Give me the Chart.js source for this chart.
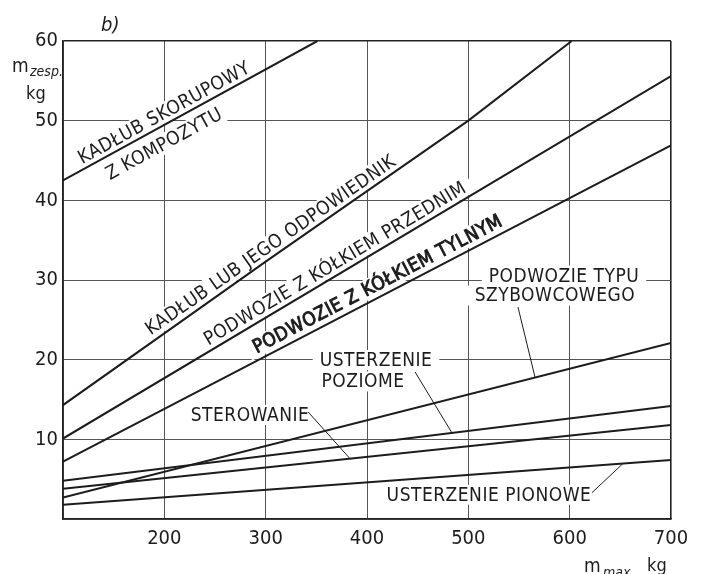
<!DOCTYPE html>
<html><head><meta charset="utf-8">
<script src="https://cdn.jsdelivr.net/npm/chart.js@4.4.1/dist/chart.umd.min.js"></script>
<style>html,body{margin:0;padding:0;background:#fff;}canvas{display:block}</style>
</head><body>
<canvas id="c" width="702" height="574"></canvas>
<script>
// ---- data ----
const xTickValues = [100, 200, 300, 400, 500, 600, 700];
const yTickValues = [0, 10, 20, 30, 40, 50, 60];
const shellCompositeX = [100, 351];
const shellCompositeY = [42.5, 60];
const fuselageX = [100, 300, 500, 602];
const fuselageY = [14.3, 32.3, 50.0, 60];
const noseGearX = [100, 700];
const noseGearY = [10.1, 55.6];
const tailGearX = [100, 700];
const tailGearY = [7.2, 46.9];
const gliderGearX = [100, 700];
const gliderGearY = [2.7, 22.1];
const hTailX = [100, 700];
const hTailY = [4.8, 14.2];
const controlsX = [100, 700];
const controlsY = [3.8, 11.8];
const vTailX = [100, 700];
const vTailY = [1.8, 7.4];

const FONT = "'DejaVu Sans Condensed', 'Liberation Sans Narrow', 'DejaVu Sans', sans-serif";
const INK = '#1c1c1c';

function pts(xs, ys){ return xs.map((x,i)=>({x:x, y:ys[i]})); }
function ds(xs, ys){
  return {data: pts(xs, ys), borderColor: INK, borderWidth: 2, pointRadius: 0, fill: false, tension: 0};
}

// annotation layout (data coordinates)
const lineLabels = [
  {text:'KADŁUB SKORUPOWY', x:199.7, y:51.0, ds:0},
  {text:'Z KOMPOZYTU', x:199.7, y:47.1, ds:0},
  {text:'KADŁUB LUB JEGO ODPOWIEDNIK', x:304.8, y:34.4, ds:1},
  {text:'PODWOZIE Z KÓŁKIEM PRZEDNIM', x:368.4, y:32.1, ds:2},
  {text:'PODWOZIE Z KÓŁKIEM TYLNYM', x:410.4, y:29.5, ds:3, bold:true}
];
const flatLabels = [
  {text:'PODWOZIE TYPU', x:594.4, y:30.55},
  {text:'SZYBOWCOWEGO', x:585.5, y:28.05},
  {text:'USTERZENIE', x:408.9, y:19.96},
  {text:'POZIOME', x:396.1, y:17.27},
  {text:'STEROWANIE', x:284.5, y:13.07},
  {text:'USTERZENIE PIONOWE', x:520.4, y:3.05}
];
const leaders = [
  [[549, 26.6], [565.8, 17.8]],
  [[447.4, 18.46], [483.9, 10.8]],
  [[341.8, 13.45], [383.2, 7.58]],
  [[622, 3.3], [652.6, 6.96]]
];

function angleAt(chart, idx, xv){
  const xs = chart.scales.x, ys = chart.scales.y;
  const d = chart.data.datasets[idx].data;
  let i = 0; while (i < d.length - 2 && d[i+1].x < xv) i++;
  const x0 = xs.getPixelForValue(d[i].x), y0 = ys.getPixelForValue(d[i].y);
  const x1 = xs.getPixelForValue(d[i+1].x), y1 = ys.getPixelForValue(d[i+1].y);
  return Math.atan2(y1 - y0, x1 - x0);
}

function labelBoxes(chart){
  const ctx = chart.ctx, xs = chart.scales.x, ys = chart.scales.y;
  const out = [];
  ctx.save();
  ctx.font = '19px ' + FONT;
  ctx.letterSpacing = '0.5px';
  lineLabels.forEach(l => {
    out.push({l, px: xs.getPixelForValue(l.x), py: ys.getPixelForValue(l.y), a: angleAt(chart, l.ds, l.x), w: ctx.measureText(l.text).width, bold: l.bold});
  });
  flatLabels.forEach(l => {
    out.push({l, px: xs.getPixelForValue(l.x), py: ys.getPixelForValue(l.y), a: 0, w: ctx.measureText(l.text).width});
  });
  ctx.restore();
  return out;
}

const overlay = {
  id: 'overlay',
  beforeDatasetsDraw(chart){
    const ctx = chart.ctx;
    const boxes = labelBoxes(chart);
    ctx.save();
    ctx.fillStyle = '#ffffff';
    boxes.forEach(b => {
      ctx.save();
      ctx.translate(b.px, b.py); ctx.rotate(b.a);
      ctx.fillRect(-b.w/2 - 7, -10, b.w + 14, 20);
      ctx.restore();
    });
    ctx.restore();
  },
  afterDatasetsDraw(chart){
    const ctx = chart.ctx, xs = chart.scales.x, ys = chart.scales.y;
    const boxes = labelBoxes(chart);
    ctx.save();
    ctx.fillStyle = INK; ctx.strokeStyle = INK;
    ctx.textAlign = 'center'; ctx.textBaseline = 'middle';
    boxes.forEach(b => {
      ctx.save();
      ctx.font = '19px ' + FONT;
      ctx.letterSpacing = '0.5px';
      ctx.translate(b.px, b.py); ctx.rotate(b.a);
      ctx.fillText(b.l.text, 0, 1);
      if (b.bold) { ctx.lineWidth = 0.9; ctx.strokeText(b.l.text, 0, 1); }
      ctx.restore();
    });
    ctx.letterSpacing = '0px';
    ctx.strokeStyle = INK; ctx.lineWidth = 1;
    leaders.forEach(s => {
      ctx.beginPath();
      ctx.moveTo(xs.getPixelForValue(s[0][0]), ys.getPixelForValue(s[0][1]));
      ctx.lineTo(xs.getPixelForValue(s[1][0]), ys.getPixelForValue(s[1][1]));
      ctx.stroke();
    });
    ctx.restore();
  },
  afterDraw(chart){
    const ctx = chart.ctx;
    ctx.save();
    ctx.fillStyle = INK;
    ctx.textBaseline = 'alphabetic'; ctx.textAlign = 'left';
    // panel letter
    ctx.font = 'italic 20px ' + FONT;
    ctx.fillText('b)', 101, 31);
    // y axis title
    ctx.font = '19px ' + FONT;
    ctx.fillText('m', 12, 72);
    ctx.font = 'italic 14px ' + FONT;
    ctx.fillText('zesp.', 30, 76);
    ctx.font = '18px ' + FONT;
    ctx.fillText('kg', 26, 99);
    // x axis title
    ctx.font = '19px ' + FONT;
    ctx.fillText('m', 584, 572);
    ctx.font = 'italic 14px ' + FONT;
    ctx.fillText('max', 603, 577);
    ctx.font = '18px ' + FONT;
    ctx.fillText('kg', 647, 571);
    ctx.restore();
  }
};

new Chart(document.getElementById('c'), {
  type: 'line',
  data: {
    datasets: [
      ds(shellCompositeX, shellCompositeY),
      ds(fuselageX, fuselageY),
      ds(noseGearX, noseGearY),
      ds(tailGearX, tailGearY),
      ds(gliderGearX, gliderGearY),
      ds(hTailX, hTailY),
      ds(controlsX, controlsY),
      ds(vTailX, vTailY)
    ]
  },
  options: {
    responsive: false,
    animation: false,
    events: [],
    layout: {padding: {top: 41, right: 31, left: 0, bottom: 0}},
    plugins: {legend: {display: false}, tooltip: {enabled: false}},
    scales: {
      x: {
        type: 'linear', min: xTickValues[0], max: xTickValues[xTickValues.length-1],
        afterBuildTicks: s => { s.ticks = xTickValues.map(v => ({value: v})); },
        afterFit: s => { s.height = 55; },
        ticks: {padding: 8, color: INK, font: {family: FONT, size: 20},
          callback: v => (v === xTickValues[0] ? '' : String(v)), maxRotation: 0},
        grid: {drawTicks: false, color: c => (c.tick && c.tick.value === 700 ? '#222' : '#555'),
          lineWidth: c => (c.tick && c.tick.value === 700 ? 1.6 : 1)},
        border: {color: '#222', width: 1.6}
      },
      y: {
        min: yTickValues[0], max: yTickValues[yTickValues.length-1],
        afterBuildTicks: s => { s.ticks = yTickValues.map(v => ({value: v})); },
        afterFit: s => { s.width = 63; },
        ticks: {padding: 5, color: INK, font: {family: FONT, size: 20},
          callback: v => (v === 0 ? '' : String(v))},
        grid: {drawTicks: false, color: c => (c.tick && c.tick.value === 60 ? '#222' : '#555'),
          lineWidth: c => (c.tick && c.tick.value === 60 ? 1.6 : 1)},
        border: {color: '#222', width: 1.6}
      }
    }
  },
  plugins: [overlay]
});
</script>
</body></html>
